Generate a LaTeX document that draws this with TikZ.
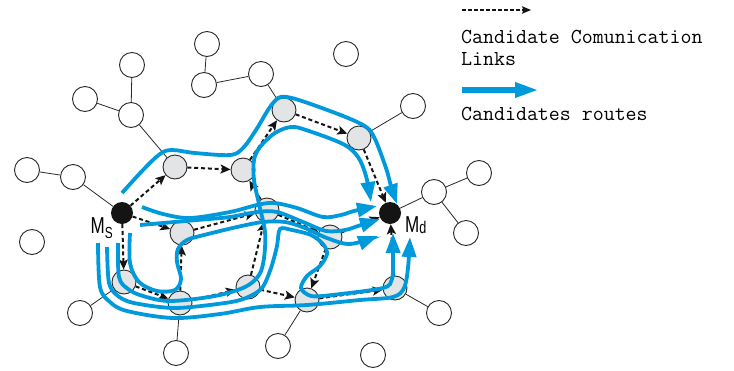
\documentclass[tikz,border=0pt]{standalone}
\usepackage{fontspec}
\usetikzlibrary{arrows.meta}
\newfontfamily\labfont[FakeStretch=0.74]{Liberation Sans}
\definecolor{routeblue}{RGB}{0,153,220}
\definecolor{nodegray}{RGB}{226,228,230}
\definecolor{edgegray}{RGB}{40,40,40}
\begin{document}
\begin{tikzpicture}[x=1pt,y=-1pt,
  wnode/.style={circle,draw=edgegray,line width=0.9pt,fill=white,minimum size=25pt,inner sep=0pt},
  gnode/.style={circle,draw=edgegray,line width=0.9pt,fill=nodegray,minimum size=24pt,inner sep=0pt},
  bnode/.style={circle,fill=black!92,minimum size=22pt,inner sep=0pt},
  tree/.style={draw=edgegray,line width=0.8pt},
  link/.style={draw=black!92,line width=2pt,dash pattern=on 4pt off 2.8pt,-{Stealth[length=10pt,width=9pt,inset=2.2pt]}},
  leglink/.style={draw=black!92,line width=1.1pt,dash pattern=on 3.5pt off 2.5pt,-{Stealth[length=9pt,width=7.5pt,inset=1.5pt]}},
  route/.style={draw=routeblue,line width=3.8pt,-{Triangle[length=20pt,width=14pt]}},
  legroute/.style={draw=routeblue,line width=6pt,-{Triangle[length=24pt,width=14pt]}},
  legtext/.style={anchor=base west,inner sep=0pt,font=\ttfamily\fontsize{21.3}{22}\selectfont}
]
\useasboundingbox (0,0) rectangle (734,370);

% white nodes
\node[wnode] (w1) at (132,65) {};
\node[wnode] (w2) at (85,99) {};
\node[wnode] (w3) at (131,115) {};
\node[wnode] (w4) at (207,44) {};
\node[wnode] (w5) at (204,85) {};
\node[wnode] (w6) at (261,74) {};
\node[wnode] (w7) at (346,54) {};
\node[wnode] (w8) at (413,106) {};
\node[wnode] (w9) at (27,170) {};
\node[wnode] (w10) at (73,177) {};
\node[wnode] (w11) at (479,173) {};
\node[wnode] (w12) at (434,192) {};
\node[wnode] (w13) at (466,233) {};
\node[wnode] (w14) at (32,242) {};
\node[wnode] (w15) at (80,313) {};
\node[wnode] (w16) at (176,353) {};
\node[wnode] (w17) at (278,346) {};
\node[wnode] (w18) at (373,355) {};
\node[wnode] (w19) at (439,313) {};

% gray nodes
\node[gnode] (g1) at (175,167) {};
\node[gnode] (g2) at (243,170) {};
\node[gnode] (g3) at (284,110) {};
\node[gnode] (g4) at (359,138) {};
\node[gnode] (g5) at (182,233) {};
\node[gnode] (g6) at (267,210) {};
\node[gnode] (g7) at (330,237) {};
\node[gnode] (g8) at (124,282) {};
\node[gnode] (g9) at (180,303) {};
\node[gnode] (g10) at (248,287) {};
\node[gnode] (g11) at (307,300) {};
\node[gnode] (g12) at (395,288) {};

% source / destination
\node[bnode] (ms) at (122,213) {};
\node[bnode] (md) at (390,213) {};
\node[anchor=base east,inner sep=0pt] (mslab) at (113,233)
  {\labfont\fontsize{23}{23}\selectfont M\raisebox{-5pt}{\fontsize{16}{16}\selectfont S}};
\node[anchor=base west,inner sep=0pt] (mdlab) at (405,232)
  {\labfont\fontsize{23}{23}\selectfont M\raisebox{-1pt}{\fontsize{17}{17}\selectfont d}};

% tree edges
\draw[tree] (w3) -- (w1);
\draw[tree] (w3) -- (w2);
\draw[tree] (w3) -- (g1);
\draw[tree] (w5) -- (w4);
\draw[tree] (w5) -- (w6);
\draw[tree] (w6) -- (g3);
\draw[tree] (w10) -- (w9);
\draw[tree] (w10) -- (ms);
\draw[tree] (w8) -- (g4);
\draw[tree] (w12) -- (md);
\draw[tree] (w12) -- (w11);
\draw[tree] (w12) -- (w13);
\draw[tree] (w19) -- (g12);
\draw[tree] (w15) -- (g8);
\draw[tree] (w16) -- (g9);
\draw[tree] (w17) -- (g11);

% candidate communication links
\draw[link] (ms) -- (g1);
\draw[link] (g1) -- (g2);
\draw[link] (g2) -- (g3);
\draw[link] (g3) -- (g4);
\draw[link] (g4) -- (md);
\draw[link] (ms) -- (g5);
\draw[link] (g5) -- (g6);
\draw[link] (g6) -- (g7);
\draw[link] (g7) -- (md);
\draw[link] (ms) -- (g8);
\draw[link] (g8) -- (g9);
\draw[link] (g9) -- (g10);
\draw[link] (g10) -- (g6);
\draw[link] (g9) -- (g5);
\draw[link] (g10) -- (g11);
\draw[link] (g11) -- (g12);
\draw[link] (g12) -- (md);
\draw[link] (g7) -- (g11);
\draw[link] (g6) -- (g2);

% candidate routes
\draw[route] plot[smooth,tension=0.55] coordinates {(122,193) (143,170) (160,154) (172,150) (195,153) (230,155) (243,148) (256,130) (273,103) (287,97) (330,111) (363,125) (374,137) (386,168) (391,186) (397,204)};
\draw[route] plot[smooth,tension=0.55] coordinates {(118,243) (119,277) (128,289) (143,296) (170,301) (215,296) (245,287) (259,275) (264,258) (265,232) (259,204) (254,180) (254,160) (260,147) (275,133) (291,127) (306,130) (343,144) (358,157) (366,176) (371,202)};
\draw[route] plot[smooth,tension=0.55] coordinates {(142,207) (163,214) (190,218) (230,212) (257,205) (274,203) (297,208) (323,217) (341,215) (354,211) (377,206)};
\draw[route] plot[smooth,tension=0.55] coordinates {(140,225) (163,223) (197,220) (230,217) (257,212) (277,212) (303,222) (326,231) (345,230) (358,226) (380,219)};
\draw[route] plot[smooth,tension=0.55] coordinates {(130,233) (130,263) (139,282) (157,291) (175,290) (181,279) (177,262) (178,249) (187,240) (204,235) (237,227) (263,222) (285,222) (305,228) (327,238) (350,244) (378,236)};
\draw[route] plot[smooth,tension=0.5] coordinates {(107,247) (109,283) (118,296) (134,303) (175,308) (225,303) (246,298) (262,288) (271,268) (277,246) (280,229) (292,230) (311,235) (323,244) (327,254) (320,266) (307,276) (301,288) (311,296) (332,295) (383,288) (392,279) (393,262) (393,233)};
\draw[route] plot[smooth,tension=0.55] coordinates {(98,243) (100,287) (110,302) (127,311) (173,318) (220,314) (260,307) (307,305) (360,300) (393,297) (404,288) (408,268) (410,237)};

% legend
\coordinate (la) at (462,10);
\coordinate (lb) at (531,10);
\draw[leglink] (la) -- (lb);
\node[legtext] (t1) at (461,43) {Candidate Comunication};
\node[legtext] (t2) at (461,65) {Links};
\coordinate (ra) at (462,90);
\coordinate (rb) at (539,90);
\draw[legroute] (ra) -- (rb);
\node[legtext] (t3) at (461,120) {Candidates routes};
\end{tikzpicture}
\end{document}
